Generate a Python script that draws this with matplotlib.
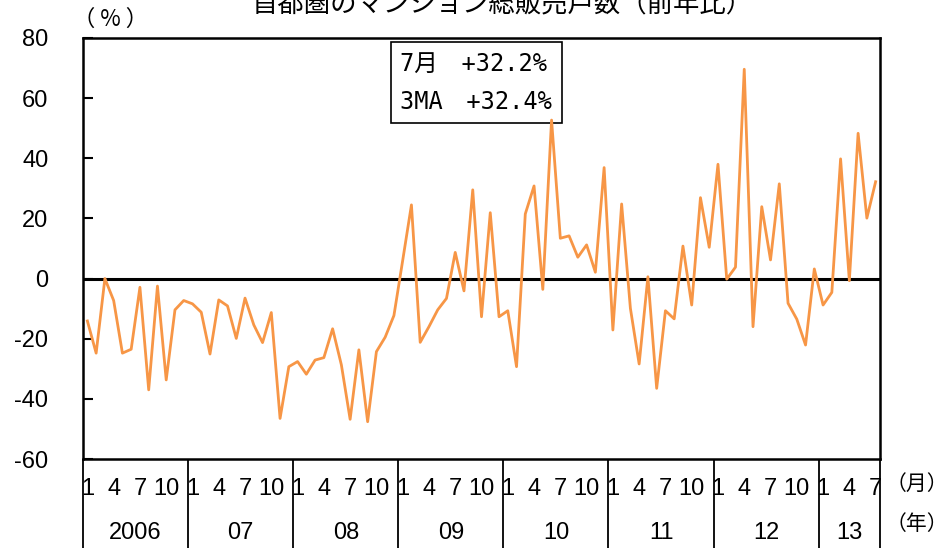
import numpy as np
import matplotlib.pyplot as plt
from matplotlib import transforms

plt.rcParams['font.family'] = ['Liberation Sans Narrow', 'Liberation Sans', 'Noto Sans CJK JP']
plt.rcParams['axes.unicode_minus'] = False

# monthly yoy change (%), 2006/1 - 2013/7
yoy = [-14.1, -24.8, 0.0, -7.3, -24.8, -23.5, -2.9, -37.0, -2.5, -33.7, -10.4, -7.3,
       -8.4, -11.2, -25.1, -7.1, -9.1, -19.9, -6.5, -15.4, -21.3, -11.3, -46.5, -29.3,
       -27.6, -31.8, -27.1, -26.3, -16.7, -28.7, -46.8, -23.7, -47.6, -24.3, -19.5, -12.3,
       6.0, 24.5, -21.2, -16.0, -10.4, -6.6, 8.7, -4.1, 29.5, -12.7, 21.9, -12.7,
       -10.7, -29.3, 21.5, 30.8, -3.6, 52.7, 13.4, 14.2, 7.1, 11.2, 2.1, 36.9,
       -17.1, 24.8, -9.9, -28.4, 0.6, -36.5, -10.7, -13.4, 10.8, -8.8, 26.9, 10.4,
       38.0, -0.2, 3.8, 69.6, -16.0, 23.9, 6.2, 31.5, -8.2, -13.5, -22.1, 3.2,
       -8.8, -4.6, 39.8, -0.7, 48.3, 20.1, 32.2]
years = ['2006', '07', '08', '09', '10', '11', '12', '13']
month_ticks = [1, 4, 7, 10]
title = '首都圏のマンション総販売戸数（前年比）'
box_lines = ['7月　+32.2%', '3MA　+32.4%']

n = len(yoy)
x = np.arange(n)

fig = plt.figure(figsize=(9.53, 5.48), dpi=100)
ax = fig.add_axes([0.0871, 0.1624, 0.8363, 0.7683])

ax.plot(x, yoy, color='#F79646', lw=2.0, zorder=3)
ax.axhline(0, color='black', lw=2.2, zorder=2)

ax.set_xlim(-0.5, n - 0.5)
ax.set_ylim(-60, 80)
ax.set_yticks(range(-60, 81, 20))
ax.tick_params(axis='y', direction='in', length=7, width=1.5, pad=25, labelsize=17)
for s in ax.spines.values():
    s.set_linewidth(1.8)

# month labels
pos, labs = [], []
for i in range(len(years)):
    for m in month_ticks:
        k = i * 12 + m - 1
        if k < n:
            pos.append(k)
            labs.append(str(m))
ax.set_xticks(pos)
ax.set_xticklabels(labs, fontsize=17)
ax.tick_params(axis='x', length=0, pad=14)

trans = transforms.blended_transform_factory(ax.transData, ax.transAxes)
edges = [i * 12 - 0.5 for i in range(len(years))] + [n - 0.5]
ax.vlines(edges, -0.215, 0, transform=trans, color='black', lw=1.3, clip_on=False)
for i, yl in enumerate(years):
    c = (edges[i] + edges[i + 1]) / 2
    ax.text(c, -0.175, yl, transform=trans, ha='center', va='center', fontsize=17)

ax.text(1.007, -0.06, '（月）', transform=ax.transAxes, ha='left', va='center',
        fontsize=15, family='Noto Sans CJK JP')
ax.text(1.007, -0.155, '（年）', transform=ax.transAxes, ha='left', va='center',
        fontsize=15, family='Noto Sans CJK JP')
ax.text(-0.012, 1.045, '（ % ）', transform=ax.transAxes, ha='left', va='center',
        fontsize=16, family=['Noto Sans CJK JP', 'DejaVu Sans'])

fig.text(0.527, 0.978, title, ha='center', va='baseline', fontsize=19,
         family='Noto Sans CJK JP')

ax.text(0.398, 0.968, '\n'.join(box_lines), transform=ax.transAxes, ha='left', va='top',
        fontsize=17, linespacing=1.75, family=['DejaVu Sans Mono', 'Noto Sans CJK JP'],
        bbox=dict(boxstyle='square,pad=0.4', fc='white', ec='black', lw=1.2), zorder=2.5)

fig.savefig('out.png', dpi=100)
